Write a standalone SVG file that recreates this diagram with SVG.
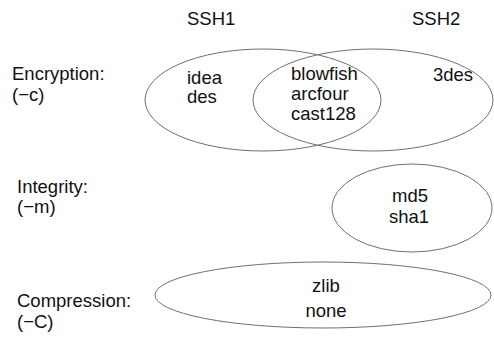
<svg xmlns="http://www.w3.org/2000/svg" width="494" height="337" viewBox="0 0 494 337">
<style>
text{font-family:"Liberation Sans",Arial,sans-serif;font-size:18.5px;fill:#111}
.m{text-anchor:middle}
ellipse{fill:none;stroke:#707070;stroke-width:1}
</style>
<rect width="494" height="337" fill="#fff"/>
<g id="headers">
<text x="187" y="25">SSH1</text>
<text x="412" y="25">SSH2</text>
</g>
<g id="labels">
<text x="12" y="80">Encryption:</text>
<text x="12" y="101">(−c)</text>
<text x="17" y="193">Integrity:</text>
<text x="17" y="213">(−m)</text>
<text x="17" y="307">Compression:</text>
<text x="17" y="328">(−C)</text>
</g>
<g id="ssh1">
<ellipse cx="263" cy="100" rx="118" ry="51"/>
<text x="187" y="84">idea</text>
<text x="187" y="103">des</text>
</g>
<g id="ssh2">
<ellipse cx="373" cy="100" rx="120" ry="51"/>
<text x="433" y="81">3des</text>
</g>
<g id="both">
<text x="291" y="80">blowfish</text>
<text x="291" y="100">arcfour</text>
<text x="291" y="120">cast128</text>
</g>
<g id="integrity">
<ellipse cx="412" cy="208" rx="80" ry="44"/>
<text class="m" x="410" y="202">md5</text>
<text class="m" x="409" y="223">sha1</text>
</g>
<g id="compression">
<ellipse cx="323" cy="295" rx="168" ry="33"/>
<text class="m" x="326" y="292">zlib</text>
<text class="m" x="326" y="317">none</text>
</g>
</svg>
